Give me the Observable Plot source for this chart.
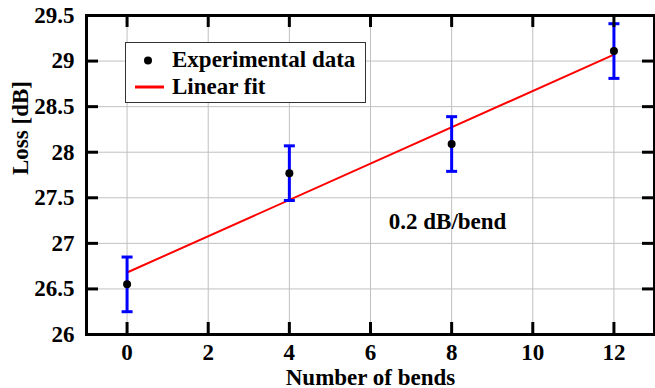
<!DOCTYPE html>
<html>
<head>
<meta charset="utf-8">
<script src="https://cdn.jsdelivr.net/npm/d3@7"></script>
<script src="https://cdn.jsdelivr.net/npm/@observablehq/plot@0.6"></script>
<style>
  html, body { margin: 0; padding: 0; background: #fff; }
  #wrap { position: relative; width: 655px; height: 388px; overflow: hidden;
          font-family: "Liberation Serif", "Times New Roman", serif; font-weight: bold; }
  #legend { position: absolute; left: 125px; top: 42px; width: 241px; height: 61px;
            border: 1.5px solid #333; background: #fff; box-sizing: border-box; }
  .lrow { position: absolute; left: 0; height: 28px; font-size: 23px; line-height: 28px; white-space: nowrap; }
  .lrow span { position: absolute; left: 46px; top: 0; }
</style>
</head>
<body>
<div id="wrap">
  <div id="chart"></div>
  <div id="legend">
    <div class="lrow" style="top:3px;">
      <svg width="40" height="28" style="position:absolute;left:0;top:0"><circle cx="22" cy="14.5" r="4" fill="#000"/></svg>
      <span>Experimental data</span>
    </div>
    <div class="lrow" style="top:30px;">
      <svg width="45" height="28" style="position:absolute;left:0;top:0"><line x1="9" x2="38" y1="14" y2="14" stroke="#ff0000" stroke-width="3"/></svg>
      <span>Linear fit</span>
    </div>
  </div>
</div>
<script>
const bends = [0, 4, 8, 12];
const loss = [26.55, 27.77, 28.09, 29.11];
const errLow = [26.25, 27.47, 27.79, 28.81];
const errHigh = [26.85, 28.07, 28.39, 29.41];
const fitX = [0, 12];
const fitY = [26.68, 29.07];
const xTicks = [0, 2, 4, 6, 8, 10, 12];
const yTicks = [26, 26.5, 27, 27.5, 28, 28.5, 29, 29.5];
const yTickLabels = ["26", "26.5", "27", "27.5", "28", "28.5", "29", "29.5"];
const annotation = [{x: 7.9, y: 27.24, text: "0.2 dB/bend"}];

const points = bends.map((b, i) => ({x: b, y: loss[i], lo: errLow[i], hi: errHigh[i]}));
const fit = fitX.map((x, i) => ({x, y: fitY[i]}));

const W = 655, H = 388, mT = 15, mB = 54, mL = 86, mR = 1;
const innerH = H - mT - mB, innerW = W - mL - mR;
const FS = 23;
const capSymbol = { draw(ctx, size) { const r = Math.sqrt(size / Math.PI); ctx.moveTo(-r, 0); ctx.lineTo(r, 0); } };

const plot = Plot.plot({
  width: W, height: H,
  marginTop: mT, marginBottom: mB, marginLeft: mL, marginRight: mR,
  style: { fontFamily: "'Liberation Serif', 'Times New Roman', serif", fontWeight: "bold", fontSize: FS + "px", color: "#000", background: "#fff" },
  x: { domain: [-1, 13] },
  y: { domain: [26, 29.5] },
  marks: [
    Plot.ruleX(xTicks, { x: d => d, stroke: "#c0c0c0", strokeWidth: 1 }),
    Plot.ruleY(yTicks.slice(1, -1), { y: d => d, stroke: "#c0c0c0", strokeWidth: 1 }),
    Plot.line(fit, { x: "x", y: "y", stroke: "#ff0000", strokeWidth: 2 }),
    Plot.ruleX(points, { x: "x", y1: "lo", y2: "hi", stroke: "#0000ff", strokeWidth: 3 }),
    Plot.dot(points, { x: "x", y: "lo", symbol: capSymbol, r: 5.5, stroke: "#0000ff", strokeWidth: 3 }),
    Plot.dot(points, { x: "x", y: "hi", symbol: capSymbol, r: 5.5, stroke: "#0000ff", strokeWidth: 3 }),
    Plot.dot(points, { x: "x", y: "y", r: 4, fill: "#000", stroke: "none" }),
    Plot.text(annotation, { x: "x", y: "y", text: "text", fontSize: FS, fontWeight: "bold", fill: "#000" }),
    Plot.frame({ stroke: "#000", strokeWidth: 3 }),
    Plot.tickX(xTicks, { x: d => d, insetTop: innerH - 12, stroke: "#000", strokeWidth: 3 }),
    Plot.tickX(xTicks, { x: d => d, insetBottom: innerH - 12, stroke: "#000", strokeWidth: 3 }),
    Plot.tickY(yTicks, { y: d => d, insetLeft: innerW - 12, stroke: "#000", strokeWidth: 3 }),
    Plot.tickY(yTicks, { y: d => d, insetRight: innerW - 12, stroke: "#000", strokeWidth: 3 }),
    Plot.axisX(xTicks, { tickSize: 0, tickPadding: 9, label: null, fontSize: FS }),
    Plot.axisY(yTicks, { tickSize: 0, tickPadding: 12, label: null, fontSize: FS, tickFormat: d => yTickLabels[yTicks.indexOf(d)] }),
    Plot.text(["Number of bends"], { frameAnchor: "bottom", dy: 50, text: d => d, fontSize: FS, fontWeight: "bold", fill: "#000" }),
    Plot.text(["Loss [dB]"], { frameAnchor: "left", dx: -66, rotate: -90, text: d => d, fontSize: FS, fontWeight: "bold", fill: "#000" })
  ]
});
document.getElementById("chart").appendChild(plot);
</script>
</body>
</html>
